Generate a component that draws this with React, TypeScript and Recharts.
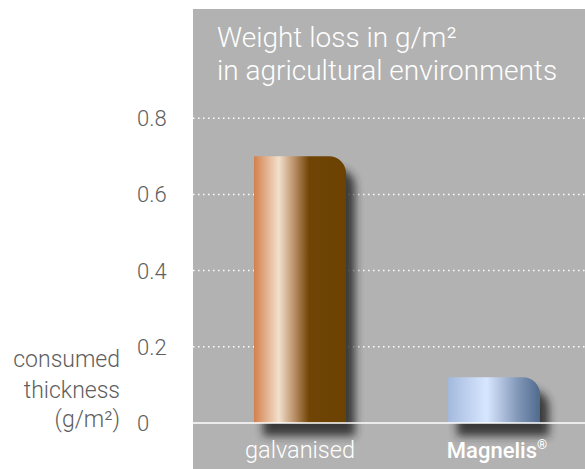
import { BarChart, Bar, XAxis, YAxis, CartesianGrid, ReferenceLine, Label } from "recharts";

// values
const categories = ["galvanised", "Magnelis"];
const weightLoss = [0.7, 0.12];
const yTicks = [0, 0.2, 0.4, 0.6, 0.8];
const gridValues = [0.2, 0.4, 0.6, 0.8];
const titleLines = ["Weight loss in g/m²", "in agricultural environments"];
const yLabelLines = ["consumed", "thickness", "(g/m²)"];

const data = categories.map((name, i) => ({ name, value: weightLoss[i] }));

const FONT = "Roboto, 'Liberation Sans', sans-serif";
const PANEL = "#b2b2b2";

const barStops: [number, string][][] = [
  [
    [0, "#d3804c"],
    [0.27, "#f2e0cd"],
    [0.45, "#b58a60"],
    [0.6, "#6f4405"],
    [1, "#6c4203"],
  ],
  [
    [0, "#a3b9dc"],
    [0.42, "#d8e7ff"],
    [0.75, "#8499ba"],
    [1, "#4f6a8e"],
  ],
];

function GlossyBar(props: any) {
  const { x, y, width, height, index } = props;
  if (!height || height <= 0) return null;
  const r = Math.min(17, height);
  const d = `M${x},${y} H${x + width - r} A${r},${r} 0 0 1 ${x + width},${y + r} V${y + height} H${x} Z`;
  const gid = `bar-grad-${index}`;
  const fid = `bar-shadow-${index}`;
  return (
    <g>
      <defs>
        <linearGradient id={gid} x1="0" y1="0" x2="1" y2="0">
          {barStops[index].map(([o, c]) => (
            <stop key={o} offset={o} stopColor={c} />
          ))}
        </linearGradient>
        <filter id={fid} x="-30%" y="-30%" width="160%" height="160%">
          <feGaussianBlur stdDeviation="4" />
        </filter>
      </defs>
      <path d={d} transform="translate(9,13)" fill="#262626" opacity={0.85} filter={`url(#${fid})`} />
      <path d={d} fill={`url(#${gid})`} />
    </g>
  );
}

function CategoryTick(props: any) {
  const { x, y, payload } = props;
  if (payload.value === "Magnelis") {
    return (
      <text x={x + 3} y={y + 27} textAnchor="middle" fill="#fff" fontFamily={FONT} fontSize={22} fontWeight={500}>
        Magnelis
        <tspan fontSize={13} dy={-9}>®</tspan>
      </text>
    );
  }
  return (
    <text x={x} y={y + 27} textAnchor="middle" fill="#fff" fontFamily={FONT} fontSize={23.5} fontWeight={300}>
      {payload.value}
    </text>
  );
}

function ValueTick(props: any) {
  const { y, payload } = props;
  return (
    <text x={137} y={y + 8} textAnchor="start" fill="#5e5e5e" fontFamily={FONT} fontSize={22} fontWeight={300}>
      {payload.value === 0 ? "0" : payload.value.toFixed(1)}
    </text>
  );
}

function AxisTitle(props: any) {
  const vb = props.viewBox || { y: 42, height: 381 };
  const bottom = vb.y + vb.height;
  const offsets = [-56, -25, 4];
  return (
    <text textAnchor="end" fill="#5e5e5e" fontFamily={FONT} fontSize={23} fontWeight={300}>
      {yLabelLines.map((line, i) => (
        <tspan key={line} x={120} y={bottom + offsets[i]}>
          {line}
        </tspan>
      ))}
    </text>
  );
}

export default function App() {
  return (
    <div style={{ position: "fixed", left: 0, top: 0, width: 585, height: 469, background: "#fff", overflow: "hidden" }}>
      <div style={{ position: "absolute", left: 193, top: 9, width: 392, height: 460, background: PANEL }} />
      <div
        style={{
          position: "absolute",
          left: 217,
          top: 21,
          color: "#fff",
          fontFamily: FONT,
          fontWeight: 300,
          fontSize: 28,
          lineHeight: "33px",
          whiteSpace: "nowrap",
        }}
      >
        {titleLines.map((t) => (
          <div key={t}>{t}</div>
        ))}
      </div>
      <div style={{ position: "absolute", left: 0, top: 0 }}>
        <BarChart width={585} height={469} data={data} margin={{ top: 42, right: -6, bottom: 16, left: 0 }} barSize={92}>
          <CartesianGrid
            vertical={false}
            horizontalValues={gridValues}
            stroke="#fff"
            strokeDasharray="1.5 3.5"
            strokeWidth={1.5}
          />
          <XAxis
            dataKey="name"
            height={30}
            axisLine={false}
            tickLine={false}
            tick={<CategoryTick />}
            padding={{ left: 10, right: 0 }}
            interval={0}
          />
          <YAxis
            width={193}
            domain={[0, 1]}
            ticks={yTicks}
            axisLine={false}
            tickLine={false}
            tick={<ValueTick />}
            label={<Label content={<AxisTitle />} />}
          />
          <ReferenceLine y={0} stroke="#fff" strokeWidth={1.5} />
          <Bar dataKey="value" shape={<GlossyBar />} isAnimationActive={false} />
        </BarChart>
      </div>
    </div>
  );
}
